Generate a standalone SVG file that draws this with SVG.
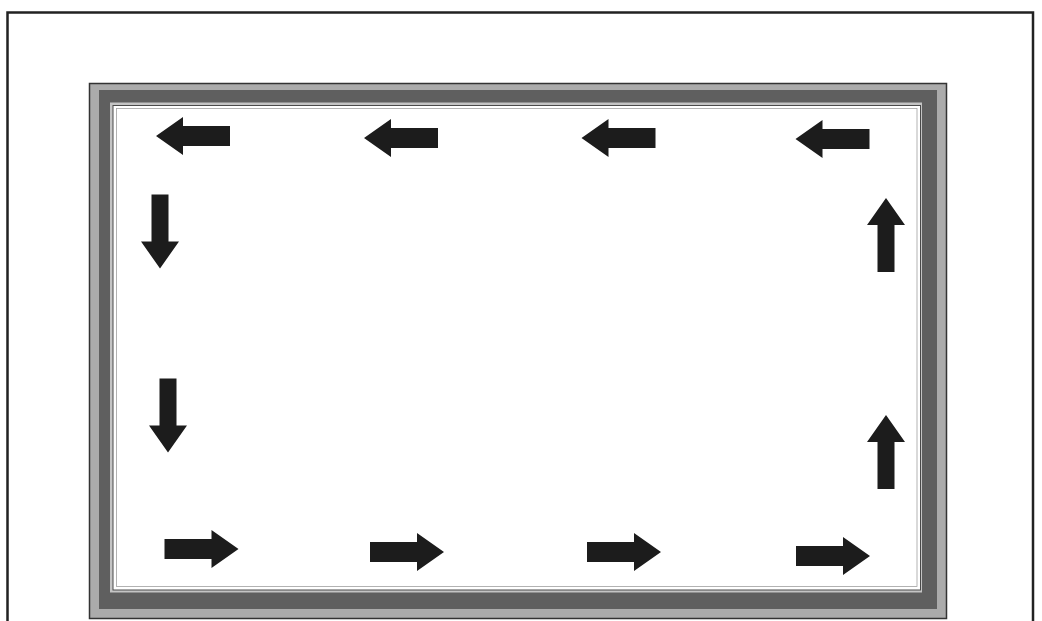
<svg xmlns="http://www.w3.org/2000/svg" xmlns:xlink="http://www.w3.org/1999/xlink" width="1042" height="621" viewBox="0 0 1042 621">
<style>
.arrow{fill:#1c1c1c}
</style>
<defs>
<path id="arr" d="M -37,-10 H 10 V -19 L 37,0 L 10,19 V 10 H -37 Z"/>
<path id="arrv" d="M -37,-8.5 H 10 V -19 L 37,0 L 10,19 V 8.5 H -37 Z"/>
</defs>
<rect width="1042" height="621" fill="#ffffff"/>
<g id="outer-frame">
<rect x="7.5" y="12.5" width="1025.5" height="630" fill="none" stroke="#222" stroke-width="2.5"/>
</g>
<g id="window-frame">
<rect x="89.5" y="83.5" width="857" height="535" fill="#ababab" stroke="#333" stroke-width="1.5"/>
<rect x="99" y="90" width="838" height="519" fill="#5f5f5f"/>
<rect x="110" y="102.5" width="812" height="490" fill="#c4c4c4"/>
<rect x="113" y="105.5" width="807.5" height="484.5" fill="#ffffff" stroke="#4a4a4a" stroke-width="1"/>
<rect x="116.5" y="108.5" width="800.5" height="478" fill="none" stroke="#a0a0a0" stroke-width="0.8"/>
</g>
<g id="arrows" class="arrow">
<use xlink:href="#arr" transform="translate(193,136) rotate(180)"/>
<use xlink:href="#arr" transform="translate(401,138) rotate(180)"/>
<use xlink:href="#arr" transform="translate(618.5,138) rotate(180)"/>
<use xlink:href="#arr" transform="translate(832.5,139) rotate(180)"/>
<use xlink:href="#arrv" transform="translate(160,231.5) rotate(90)"/>
<use xlink:href="#arrv" transform="translate(168,415.5) rotate(90)"/>
<use xlink:href="#arrv" transform="translate(886,235) rotate(-90)"/>
<use xlink:href="#arrv" transform="translate(886,452) rotate(-90)"/>
<use xlink:href="#arr" transform="translate(201.5,549)"/>
<use xlink:href="#arr" transform="translate(407,552)"/>
<use xlink:href="#arr" transform="translate(624,552)"/>
<use xlink:href="#arr" transform="translate(833,556)"/>
</g>
</svg>
